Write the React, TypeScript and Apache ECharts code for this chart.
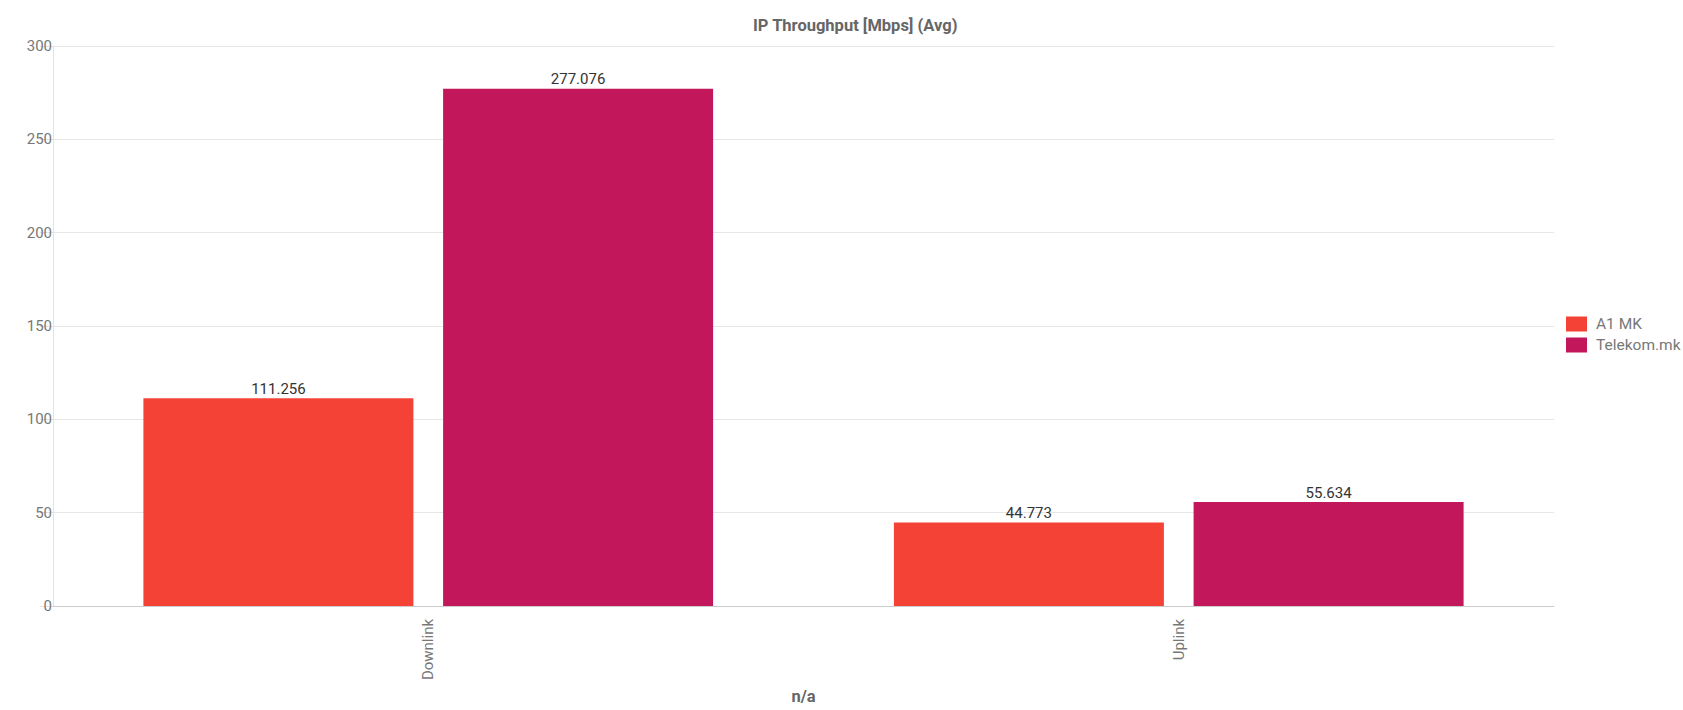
import React, { useEffect, useRef } from "react";
import * as echarts from "echarts";

const categories = ["Downlink", "Uplink"];
const seriesNames = ["A1 MK", "Telekom.mk"];
const a1Values = [111.256, 44.773];
const telekomValues = [277.076, 55.634];
const colors = ["#f44336", "#c2185b"];

export default function App() {
  const ref = useRef<HTMLDivElement>(null);
  useEffect(() => {
    if (!ref.current) return;
    const chart = echarts.init(ref.current, undefined, { renderer: "svg" });
    const font = "Roboto";
    chart.setOption({
      animation: false,
      textStyle: { fontFamily: font },
      title: {
        text: "IP Throughput [Mbps] (Avg)",
        left: 748,
        top: 12,
        textStyle: { fontSize: 16.5, fontWeight: "bold", color: "#666", fontFamily: font },
      },
      legend: {
        orient: "vertical",
        left: 1561,
        top: 311,
        itemWidth: 21,
        itemHeight: 15,
        itemGap: 5,
        icon: "rect",
        textStyle: { fontSize: 15.5, color: "#777", fontFamily: font, padding: [0, 0, 0, 4] },
        data: seriesNames,
      },
      grid: { left: 53, right: 129, top: 46, bottom: 96, containLabel: false },
      xAxis: {
        type: "category",
        data: categories,
        name: "n/a",
        nameLocation: "middle",
        nameGap: 88,
        nameTextStyle: {
          fontSize: 16.5,
          fontWeight: "bold",
          color: "#666",
          fontFamily: font,
          verticalAlign: "middle",
        },
        axisLine: { lineStyle: { color: "#ccc", width: 1 } },
        axisTick: { show: false },
        axisLabel: { rotate: 90, fontSize: 15, color: "#777", margin: 13, fontFamily: font },
      },
      yAxis: {
        type: "value",
        min: 0,
        max: 300,
        interval: 50,
        axisLine: { show: true, lineStyle: { color: "#e3e3e3" } },
        axisTick: { show: true, length: 13, lineStyle: { color: "#e3e3e3" } },
        axisLabel: { fontSize: 15, color: "#777", margin: 1, fontFamily: font },
        splitLine: { lineStyle: { color: "#e6e6e6" } },
      },
      series: [
        {
          name: seriesNames[0],
          type: "bar",
          data: a1Values,
          itemStyle: { color: colors[0] },
          barWidth: 270,
          barGap: "11%",
          label: { show: true, position: "top", distance: 2, fontSize: 15, color: "#333", fontFamily: font },
        },
        {
          name: seriesNames[1],
          type: "bar",
          data: telekomValues,
          itemStyle: { color: colors[1] },
          barWidth: 270,
          barGap: "11%",
          label: { show: true, position: "top", distance: 2, fontSize: 15, color: "#333", fontFamily: font },
        },
      ],
    });
    return () => chart.dispose();
  }, []);
  return (
    <div
      ref={ref}
      style={{ position: "absolute", left: 0, top: 0, width: 1683, height: 710, background: "#fff" }}
    />
  );
}
